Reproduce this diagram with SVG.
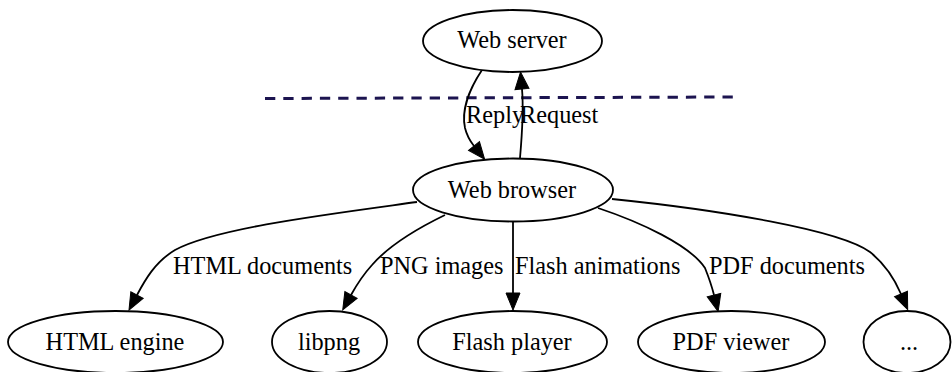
<svg xmlns="http://www.w3.org/2000/svg" width="952" height="372" viewBox="0 0 952 372">
  <style>
    .node ellipse { fill: #ffffff; stroke: #000000; stroke-width: 1.8; }
    .node text { font-family: "Liberation Serif", "Times New Roman", serif; font-size: 24.3px; fill: #000000; text-anchor: middle; }
    .edge path { fill: none; stroke: #000000; stroke-width: 1.8; marker-end: url(#arrow); }
    .edge text { font-family: "Liberation Serif", "Times New Roman", serif; font-size: 24.3px; fill: #000000; }
    .divider { stroke: #1c1450; stroke-width: 3; stroke-dasharray: 10.3 8; fill: none; }
  </style>
  <defs>
    <marker id="arrow" markerUnits="userSpaceOnUse" markerWidth="18" markerHeight="16" refX="0" refY="8" orient="auto" overflow="visible">
      <path d="M0,1 L17,8 L0,15 Z" fill="#000000" stroke="#000000" stroke-width="1"/>
    </marker>
  </defs>

  <rect width="952" height="372" fill="#ffffff"/>

  <!-- network boundary -->
  <line class="divider" x1="265" y1="98.5" x2="733" y2="97"/>

  <g id="edges">
    <g class="edge" id="e-reply">
      <path d="M482,70 C470,88 461,110 465,128 C467,136 470,141 474,146"/>
      <text x="466" y="123">Reply</text>
    </g>
    <g class="edge" id="e-request">
      <path d="M520,158 C522,135 524,112 522,89"/>
      <text x="520" y="123">Request</text>
    </g>
    <g class="edge" id="e-html">
      <path d="M417,202 C330,214 215,228 175,250 C155,262 145,280 137,295"/>
      <text x="173" y="274">HTML documents</text>
    </g>
    <g class="edge" id="e-png">
      <path d="M445,215 C410,232 385,250 372,265 C362,276 356,286 351,295"/>
      <text x="380" y="274">PNG images</text>
    </g>
    <g class="edge" id="e-flash">
      <path d="M513,222 L513,293"/>
      <text x="515" y="274">Flash animations</text>
    </g>
    <g class="edge" id="e-pdf">
      <path d="M598,208 C640,222 690,245 705,268 C709,278 712,287 714,295"/>
      <text x="709" y="274">PDF documents</text>
    </g>
    <g class="edge" id="e-more">
      <path d="M612,199 C720,210 840,230 870,252 C885,264 895,280 901,294"/>
    </g>
  </g>

  <g class="node" id="web-server">
    <ellipse cx="512.5" cy="41" rx="89.5" ry="31"/>
    <text x="512" y="48">Web server</text>
  </g>
  <g class="node" id="web-browser">
    <ellipse cx="513" cy="190" rx="100" ry="31.5"/>
    <text x="512" y="198">Web browser</text>
  </g>
  <g class="node" id="html-engine">
    <ellipse cx="115.5" cy="342" rx="107.5" ry="31"/>
    <text x="115" y="350">HTML engine</text>
  </g>
  <g class="node" id="libpng">
    <ellipse cx="329.5" cy="342" rx="57.5" ry="31"/>
    <text x="329" y="350">libpng</text>
  </g>
  <g class="node" id="flash-player">
    <ellipse cx="512.5" cy="342" rx="94.5" ry="31"/>
    <text x="512" y="350">Flash player</text>
  </g>
  <g class="node" id="pdf-viewer">
    <ellipse cx="731.5" cy="342" rx="93.5" ry="31"/>
    <text x="731" y="350">PDF viewer</text>
  </g>
  <g class="node" id="more">
    <ellipse cx="907" cy="342" rx="43.5" ry="31"/>
    <text x="909" y="350">...</text>
  </g>
</svg>
